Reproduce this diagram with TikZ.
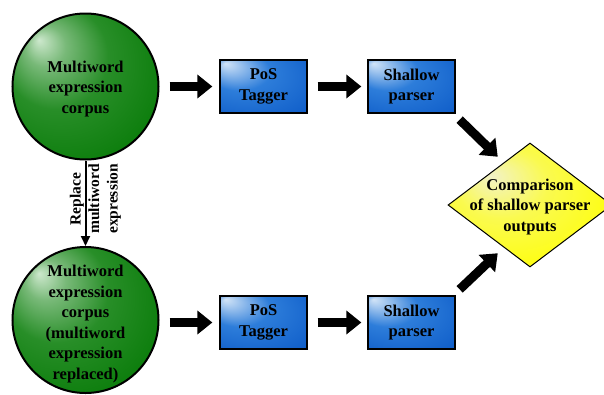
\documentclass[tikz,border=0pt]{standalone}
\usepackage{fontspec}
\setmainfont{Liberation Serif}
\usetikzlibrary{arrows.meta,shapes.geometric,calc}

\definecolor{gLight}{RGB}{205,232,205}
\definecolor{gSoft}{RGB}{120,185,120}
\definecolor{gMid}{RGB}{40,142,40}
\definecolor{gDark}{RGB}{0,118,0}
\definecolor{bLight}{RGB}{210,228,247}
\definecolor{bMid}{RGB}{45,125,218}
\definecolor{bDark}{RGB}{10,88,198}
\definecolor{yLight}{RGB}{242,242,200}
\definecolor{yMid}{RGB}{250,250,80}
\definecolor{yDark}{RGB}{255,255,0}

\pgfdeclareradialshading{greenball}{\pgfpoint{-16bp}{16bp}}{color(0bp)=(gLight); color(7bp)=(gSoft); color(18bp)=(gMid); color(40bp)=(gDark); color(50bp)=(gDark)}
\pgfdeclareradialshading{bluebox}{\pgfpoint{-22bp}{22bp}}{color(0bp)=(bLight); color(18bp)=(bMid); color(45bp)=(bDark); color(50bp)=(bDark)}
\pgfdeclareradialshading{yellowdia}{\pgfpoint{-12bp}{12bp}}{color(0bp)=(yLight); color(14bp)=(yMid); color(35bp)=(yDark); color(50bp)=(yDark)}

\tikzset{
  txt/.style={align=center, font=\bfseries\fontsize{16.5}{20.5}\selectfont},
  ball/.style={circle, draw=black, line width=2pt, minimum size=146pt, inner sep=0pt, shade, shading=greenball},
  proc/.style={txt, rectangle, draw=black, line width=1.3pt, minimum width=87pt, minimum height=53pt, inner sep=0pt, shade, shading=bluebox},
  decide/.style={diamond, draw=black, line width=1pt, minimum width=164pt, minimum height=124pt, inner sep=0pt, shade, shading=yellowdia},
  sidelbl/.style={align=center, font=\bfseries\fontsize{15.5}{18.5}\selectfont},
  fatarrow/.style={line width=9pt, -{Triangle[length=15pt,width=23pt]}},
  thinarrow/.style={line width=2pt, -{Triangle[length=10pt,width=9pt]}}
}

\begin{document}
\begin{tikzpicture}[x=1pt,y=-1pt]
\useasboundingbox (0,0) rectangle (604,394);

\node[ball] (c1) at (85.5,86.5) {};
\node[txt] (c1t) at ([yshift=-2.5pt]c1.center) {Multiword\\expression\\corpus};
\node[ball] (c2) at (85.5,320) {};
\node[txt] (c2t) at ([yshift=-4pt]c2.center) {Multiword\\expression\\corpus\\(multiword\\expression\\replaced)};

\node[proc] (t1) at (263.5,86.5) {PoS\\Tagger};
\node[proc] (s1) at (411.5,86.5) {Shallow\\parser};
\node[proc] (t2) at (263.5,322.5) {PoS\\Tagger};
\node[proc] (s2) at (411.5,322.5) {Shallow\\parser};

\node[decide] (d) at (530,205) {};
\node[txt] (dt) at ([yshift=-2pt]d.center) {Comparison\\of shallow parser\\outputs};

\draw[thinarrow] (c1) -- (c2);
\node[sidelbl, rotate=90] (rl) at (95.5,199) {Replace\\multiword\\expression};

\draw[fatarrow, shorten <=10pt, shorten >=7pt] (c1.east |- t1.west) -- (t1.west);
\draw[fatarrow, shorten <=10pt, shorten >=6pt] (t1.east) -- (s1.west);
\draw[fatarrow, shorten <=10pt, shorten >=7pt] (c2.east |- t2.west) -- (t2.west);
\draw[fatarrow, shorten <=10pt, shorten >=6pt] (t2.east) -- (s2.west);

\draw[fatarrow] ($(s1.south east)+(4,6)$) -- ($(d.north west)+(9,-17)$);
\draw[fatarrow] ($(s2.north east)+(4,-6)$) -- ($(d.south west)+(9,17)$);
\end{tikzpicture}
\end{document}
